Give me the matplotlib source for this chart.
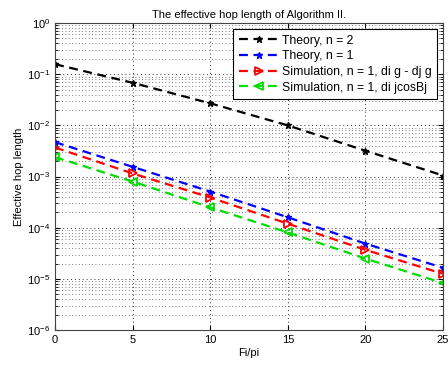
import numpy as np
import matplotlib
matplotlib.use("Agg")
import matplotlib.pyplot as plt
from matplotlib.ticker import LogLocator, NullFormatter

plt.rcParams['font.family'] = ['Liberation Sans', 'DejaVu Sans']

# data
fi = [0, 5, 10, 15, 20, 25]
theory_n2 = [0.157, 0.068, 0.027, 0.0100, 0.0032, 0.00105]
theory_n1 = [4.7e-3, 1.55e-3, 5.1e-4, 1.6e-4, 4.9e-5, 1.65e-5]
sim_diff = [3.7e-3, 1.15e-3, 3.9e-4, 1.2e-4, 3.7e-5, 1.26e-5]
sim_cos = [2.4e-3, 8.0e-4, 2.5e-4, 8.1e-5, 2.5e-5, 8.3e-6]

labels = ['Theory, n = 2', 'Theory, n = 1',
          'Simulation, n = 1, di g - dj g', 'Simulation, n = 1, di jcosBj']

fig = plt.figure(figsize=(4.48, 3.66), dpi=100)
ax = fig.add_axes([0.123, 0.098, 0.866, 0.839])

dash = (0, (4, 2.5))
ax.plot(fi, theory_n2, color='black', ls=dash, marker='*', ms=5, lw=1.6, label=labels[0])
ax.plot(fi, theory_n1, color='blue', ls=dash, marker='*', ms=5, lw=1.6, label=labels[1])
ax.plot(fi, sim_diff, color='red', ls=dash, marker='>', ms=5.5, mfc='none', mew=1.3,
        lw=1.6, label=labels[2])
ax.plot(fi, sim_cos, color='#00dd00', ls=dash, marker='<', ms=5.5, mfc='none', mew=1.3,
        lw=1.6, label=labels[3])

ax.set_yscale('log')
ax.set_xlim(0, 25)
ax.set_ylim(1e-6, 1)
ax.set_xticks(fi)
ax.yaxis.set_major_locator(LogLocator(base=10, numticks=10))
ax.yaxis.set_minor_locator(LogLocator(base=10, subs=np.arange(2, 10), numticks=10))
ax.yaxis.set_minor_formatter(NullFormatter())

ax.grid(True, which='major', linestyle=(0, (1, 3)), color='#333333', lw=0.7)
ax.grid(True, which='minor', axis='y', linestyle=(0, (1, 3)), color='#555555', lw=0.6)
ax.tick_params(which='both', direction='in', top=True, right=True, labelsize=8)
ax.tick_params(which='minor', length=2)
for s in ax.spines.values():
    s.set_color('#444444')

ax.set_title('The effective hop length of Algorithm II.', fontsize=8, pad=4)
ax.set_xlabel('Fi/pi', fontsize=8, labelpad=2)
ax.set_ylabel('Effective hop length', fontsize=8, labelpad=2)

leg = ax.legend(loc='upper right', fontsize=8.8, fancybox=False, framealpha=1,
                edgecolor='black', borderaxespad=0.5, handlelength=3.3,
                labelspacing=0.3, borderpad=0.45, handletextpad=0.2)
leg.get_frame().set_linewidth(0.8)

fig.savefig('out.png', dpi=100)
